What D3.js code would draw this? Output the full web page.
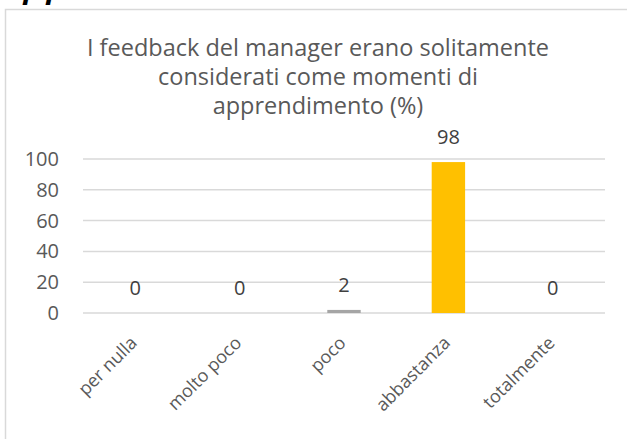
<!DOCTYPE html>
<html>
<head>
<meta charset="utf-8">
<script src="https://cdn.jsdelivr.net/npm/d3@7"></script>
<style>
  body { margin: 0; background: #fff; }
  text { font-family: "Open Sans", sans-serif; }
</style>
</head>
<body>
<script>
let categories = ["per nulla", "molto poco", "poco", "abbastanza", "totalmente"];
let values = [0, 0, 2, 98, 0];
let barColors = ["#4472c4", "#ed7d31", "#a5a5a5", "#ffc000", "#5b9bd5"];
let yTicks = [0, 20, 40, 60, 80, 100];
let titleLines = ["I feedback del manager erano solitamente", "considerati come momenti di", "apprendimento (%)"];

let svg = d3.select('body')
  .append('svg')
  .attr("width", 627)
  .attr("height", 439);

let textColor = "#595959";
let gridColor = "#d9d9d9";

// bit of the page text above the chart, cut off by the crop
svg.append("text")
  .attr("x", 22)
  .attr("y", 5)
  .attr("font-size", 30)
  .attr("font-weight", "bold")
  .attr("font-style", "italic")
  .attr("letter-spacing", 14)
  .attr("fill", "#000")
  .text("ll");

// chart frame
svg.append("rect")
  .attr("x", 5.5)
  .attr("y", 9.5)
  .attr("width", 700)
  .attr("height", 500)
  .attr("fill", "#fff")
  .attr("stroke", gridColor)
  .attr("stroke-width", 1.5);

svg.append("text")
  .attr("text-anchor", "middle")
  .attr("fill", textColor)
  .attr("font-size", 23.5)
  .selectAll("tspan")
  .data(titleLines)
  .join("tspan")
  .attr("x", 318)
  .attr("y", (d, i) => 56 + i * 29)
  .text(d => d);

let x = d3.scaleBand()
  .domain(categories)
  .range([83, 605])
  .paddingInner(0.68)
  .paddingOuter(0.34);

let y = d3.scaleLinear()
  .domain([0, 100])
  .range([313, 159]);

// gridlines
svg.append("g")
  .selectAll("line")
  .data(yTicks)
  .join("line")
  .attr("x1", 83)
  .attr("x2", 605)
  .attr("y1", d => y(d))
  .attr("y2", d => y(d))
  .attr("stroke", gridColor)
  .attr("stroke-width", 1.5);

// y axis labels
let yAxis = svg.append("g")
  .attr("transform", "translate(59,0)")
  .call(d3.axisLeft(y).tickValues(yTicks).tickSize(0).tickPadding(0));
yAxis.select(".domain").remove();
yAxis.selectAll("text")
  .attr("font-family", "Open Sans, sans-serif")
  .attr("font-size", 20)
  .attr("fill", textColor);

// bars
svg.append("g")
  .selectAll("rect")
  .data(values)
  .join("rect")
  .attr("x", (d, i) => x(categories[i]))
  .attr("width", x.bandwidth())
  .attr("y", d => y(d))
  .attr("height", d => y(0) - y(d))
  .attr("fill", (d, i) => barColors[i]);

// value labels
svg.append("g")
  .selectAll("text")
  .data(values)
  .join("text")
  .attr("x", (d, i) => x(categories[i]) + x.bandwidth() / 2)
  .attr("y", d => y(d) - 18)
  .attr("text-anchor", "middle")
  .attr("font-size", 20)
  .attr("fill", "#404040")
  .text(d => d);

// x axis labels
let xAxis = svg.append("g")
  .attr("transform", "translate(0,313)")
  .call(d3.axisBottom(x).tickSize(0).tickPadding(0));
xAxis.select(".domain").remove();
xAxis.selectAll("text")
  .attr("font-family", "Open Sans, sans-serif")
  .attr("font-size", 18)
  .attr("fill", textColor)
  .attr("text-anchor", "end")
  .attr("dy", null)
  .attr("y", 0)
  .attr("transform", "translate(3,31) rotate(-45)");
</script>
</body>
</html>
